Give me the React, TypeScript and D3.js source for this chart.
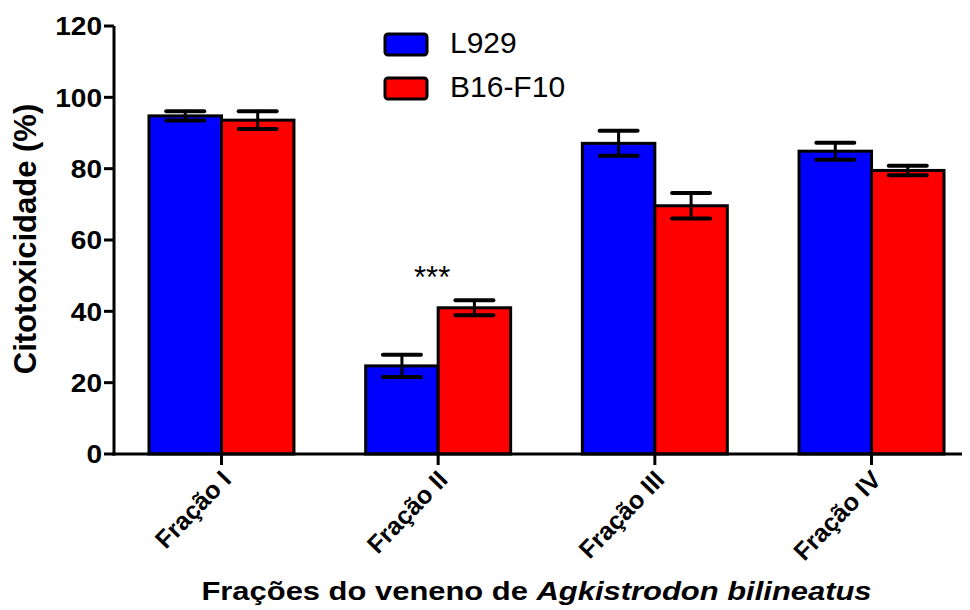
import React from "react";
import * as d3 from "d3";

// Fractions of the venom and the two cell lines tested
const fractions = ["Fração I", "Fração II", "Fração III", "Fração IV"];
const seriesNames = ["L929", "B16-F10"];
const seriesColors = ["#0000FF", "#FF0000"];

// Mean cytotoxicity (%) per fraction, and its error (±)
const l929Means = [94.8, 24.7, 87.1, 84.9];
const l929Errors = [1.3, 3.1, 3.5, 2.4];
const b16Means = [93.6, 41.0, 69.6, 79.5];
const b16Errors = [2.5, 2.1, 3.6, 1.35];

const yTicks = [0, 20, 40, 60, 80, 100, 120];

// Significance marker placed above a given fraction
const significance = [{ fraction: "Fração II", label: "***", value: 46.5 }];

const W = 970;
const H = 610;
const axisLeft = 114;
const axisBottom = 454;
const axisTop = 26;
const axisRightEnd = 962;

const FONT = "Liberation Sans, Arial, Helvetica, sans-serif";

export default function App() {
  const y = d3.scaleLinear().domain([0, 120]).range([axisBottom, axisTop]);
  const x = d3
    .scaleBand<string>()
    .domain(fractions)
    .range([axisLeft, 979])
    .paddingInner(0.331)
    .paddingOuter(0.1615);
  const sub = d3
    .scaleBand<string>()
    .domain(seriesNames)
    .range([0, x.bandwidth()])
    .padding(0);

  const data = [
    { name: seriesNames[0], color: seriesColors[0], means: l929Means, errs: l929Errors },
    { name: seriesNames[1], color: seriesColors[1], means: b16Means, errs: b16Errors },
  ];

  const capHalf = 19;

  return (
    <svg
      width={W}
      height={H}
      style={{ position: "absolute", left: 0, top: 0, background: "#fff" }}
      fontFamily={FONT}
    >
      {/* bars */}
      {data.map((s) =>
        fractions.map((f, i) => {
          const x0 = (x(f) ?? 0) + (sub(s.name) ?? 0);
          const bw = sub.bandwidth();
          const yt = y(s.means[i]);
          return (
            <rect
              key={s.name + f}
              x={x0}
              y={yt}
              width={bw}
              height={axisBottom - yt}
              fill={s.color}
              stroke="#000"
              strokeWidth={3}
            />
          );
        })
      )}

      {/* error bars */}
      {data.map((s) =>
        fractions.map((f, i) => {
          const cx = (x(f) ?? 0) + (sub(s.name) ?? 0) + sub.bandwidth() / 2;
          const hi = y(s.means[i] + s.errs[i]);
          const lo = y(s.means[i] - s.errs[i]);
          return (
            <g key={"e" + s.name + f} stroke="#000" strokeLinecap="round">
              <line x1={cx} x2={cx} y1={hi} y2={lo} strokeWidth={3} />
              <line x1={cx - capHalf} x2={cx + capHalf} y1={hi} y2={hi} strokeWidth={4} />
              <line x1={cx - capHalf} x2={cx + capHalf} y1={lo} y2={lo} strokeWidth={4} />
            </g>
          );
        })
      )}

      {/* y axis */}
      <line x1={axisLeft} x2={axisLeft} y1={axisTop} y2={axisBottom + 1.5} stroke="#000" strokeWidth={3} />
      {yTicks.map((t) => (
        <g key={"yt" + t}>
          <line x1={axisLeft - 10} x2={axisLeft} y1={y(t)} y2={y(t)} stroke="#000" strokeWidth={3} />
          <text
            transform={`translate(${axisLeft - 12},${y(t)}) scale(1.08,1)`}
            dy="0.36em"
            textAnchor="end"
            fontSize={26}
            fontWeight="bold"
          >
            {t}
          </text>
        </g>
      ))}

      {/* x axis */}
      <line x1={axisLeft - 1.5} x2={axisRightEnd} y1={axisBottom} y2={axisBottom} stroke="#000" strokeWidth={3} />
      {fractions.map((f) => {
        const cx = (x(f) ?? 0) + x.bandwidth() / 2;
        return (
          <g key={"xt" + f}>
            <line x1={cx} x2={cx} y1={axisBottom} y2={axisBottom + 11} stroke="#000" strokeWidth={3} />
            <text
              transform={`translate(${cx + 11},${axisBottom + 27}) rotate(-46)`}
              textAnchor="end"
              fontSize={25}
              fontWeight="bold"
            >
              {f}
            </text>
          </g>
        );
      })}

      {/* significance */}
      {significance.map((m) => (
        <text
          key={"sig" + m.fraction}
          x={(x(m.fraction) ?? 0) + x.bandwidth() / 2 - 6}
          y={y(m.value)}
          textAnchor="middle"
          fontSize={31}
        >
          {m.label}
        </text>
      ))}

      {/* axis titles */}
      <text
        transform={`translate(36,239) rotate(-90)`}
        textAnchor="middle"
        fontSize={31}
        fontWeight="bold"
      >
        Citotoxicidade (%)
      </text>
      <text
        transform="translate(536.5,600) scale(1.19,1)"
        textAnchor="middle"
        fontSize={26}
        fontWeight="bold"
      >
        Frações do veneno de <tspan fontStyle="italic">Agkistrodon bilineatus</tspan>
      </text>

      {/* legend */}
      {seriesNames.map((n, i) => (
        <g key={"lg" + n} transform={`translate(385,${34 + i * 44})`}>
          <rect x={0} y={0} width={42} height={21} rx={3} fill={seriesColors[i]} stroke="#000" strokeWidth={3} />
          <text x={65} y={19} fontSize={30}>
            {n}
          </text>
        </g>
      ))}
    </svg>
  );
}
